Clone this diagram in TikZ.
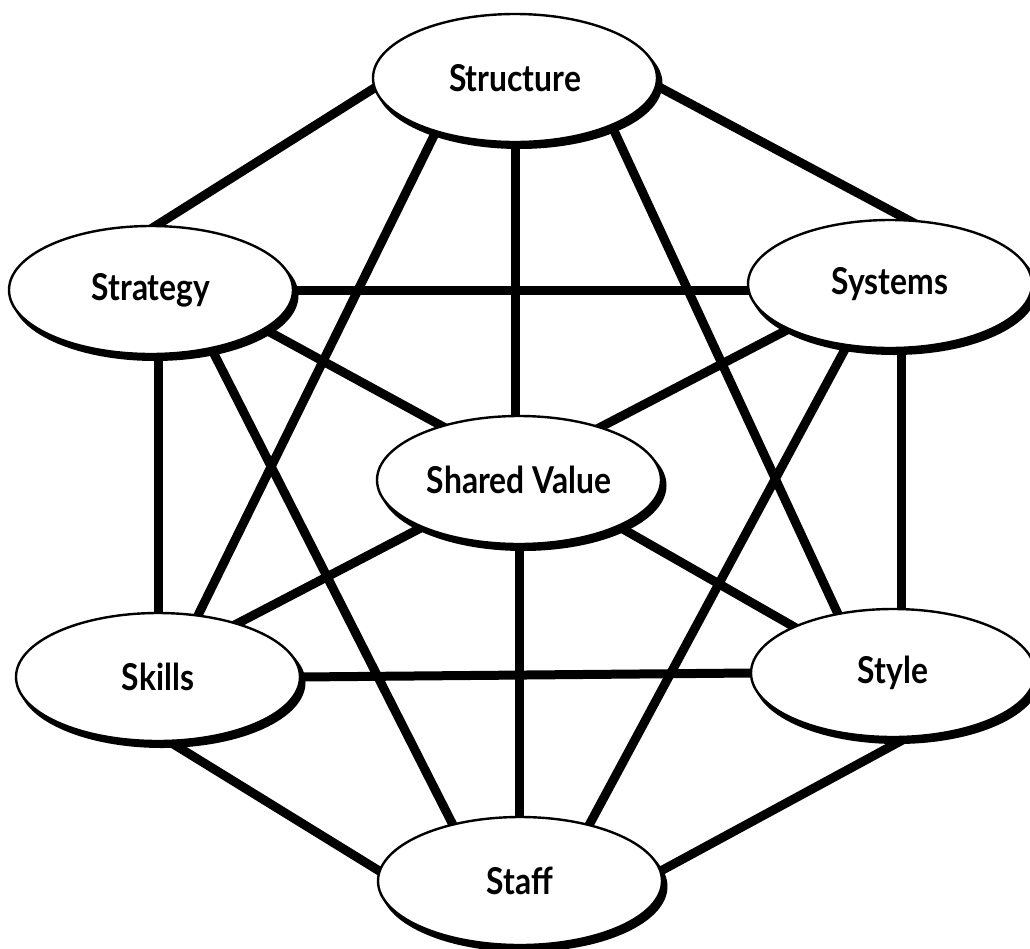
\documentclass[tikz,border=0pt]{standalone}
\usepackage{fontspec}
\setmainfont{Lato}[FakeStretch=0.86]
\usetikzlibrary{shapes.geometric,backgrounds}
\tikzset{
  sev/.style={ellipse, draw=black, line width=2.4pt, fill=white,
    minimum width=284pt, minimum height=128pt, inner sep=0pt, outer sep=0pt,
    font=\fontsize{37}{40}\selectfont\bfseries},
  shade7/.style={fill=black},
  link/.style={line width=9pt, black, shorten <=-8pt, shorten >=-8pt}
}
\begin{document}
\begin{tikzpicture}[x=1pt,y=-1pt]
\useasboundingbox (0,0) rectangle (1030,948);
\foreach \cx/\cy in {515/78,151/290,890/284,519/480,158/677,893/673,520/881}
  \fill[shade7] (\cx+4,\cy+5.5) ellipse [x radius=143.5, y radius=65.5];
\node[sev] (st) at (515,78) {Structure};
\node[sev] (sg) at (151,290) {Strategy};
\node[sev] (sy) at (890,284) {Systems};
\node[sev] (sv) at (519,480) {Shared Value};
\node[sev] (sk) at (158,677) {Skills};
\node[sev] (sl) at (893,673) {Style};
\node[sev] (sf) at (520,881) {Staff};
\begin{pgfonlayer}{background}
\fill[white] (0,0) rectangle (1030,948);
\draw[link] (st.184) -- (sg.86);
\draw[link] (st.357) -- (sy.73);
\draw[link] (st.214) -- (sk.57);
\draw[link] (st.south) -- (st.south |- sv.north);
\draw[link] (st.334) -- (sl.133);
\draw[link] (sg.east) -- (sg.east -| sy.west);
\draw[link] (sg.341) -- (sv.145);
\draw[link] (sk.north |- sg.south) -- (sk.north);
\draw[link] (sg.316) -- (sf.140);
\draw[link] (sy.204) -- (sv.33);
\draw[link] (sy.280) -- (sy.280 |- sl.north);
\draw[link] (sy.235) -- (sf.39);
\draw[link] (sv.206) -- (sk.34);
\draw[link] (sv.south) -- (sv.south |- sf.north);
\draw[link] (sv.335) -- (sl.155);
\draw[link] (sk.east) -- (sl.west);
\draw[link] (sk.279) -- (sf.176);
\draw[link] (sl.284) -- (sf.4);
\end{pgfonlayer}
\end{tikzpicture}
\end{document}
